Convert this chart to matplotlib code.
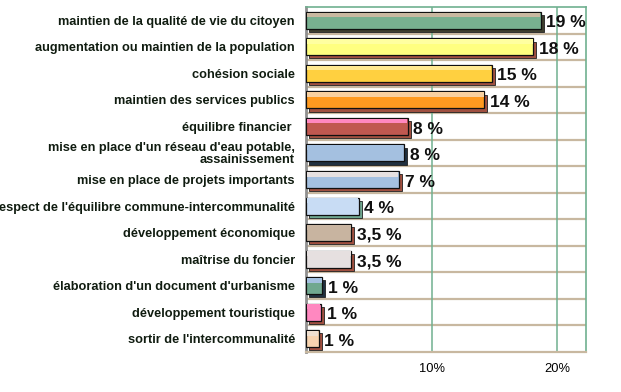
import matplotlib
matplotlib.use("Agg")
import matplotlib.pyplot as plt
from matplotlib.patches import Rectangle

categories = [
    "maintien de la qualité de vie du citoyen",
    "augmentation ou maintien de la population",
    "cohésion sociale",
    "maintien des services publics",
    "équilibre financier ",
    "mise en place d'un réseau d'eau potable,\nassainissement",
    "mise en place de projets importants",
    "espect de l'équilibre commune-intercommunalité",
    "développement économique",
    "maîtrise du foncier",
    "élaboration d'un document d'urbanisme",
    "développement touristique",
    "sortir de l'intercommunalité",
]
values = [18.7, 18.1, 14.8, 14.2, 8.1, 7.8, 7.4, 4.2, 3.6, 3.6, 1.3, 1.2, 1.0]
value_labels = ["19 %", "18 %", "15 %", "14 %", "8 %", "8 %", "7 %", "4 %",
                "3,5 %", "3,5 %", "1 %", "1 %", "1 %"]
xticks = [10, 20]
xtick_labels = ["10%", "20%"]

face = ["#78b090", "#ffff80", "#ffd040", "#ff9a20", "#c05850", "#a4c0e0",
        "#a4c0e0", "#c8dcf4", "#c8b4a0", "#e6e0e0", "#70a890", "#ff88c0",
        "#f8d4b0"]
top = ["#c8b8a0", "#ffffa0", "#ffe890", "#f8d0a0", "#ff88c0", "#a4c0e0",
       "#e6e0e0", "#c8dcf4", "#c8b4a0", "#e6e0e0", "#a4c0e0", "#ff88c0",
       "#f0e0d0"]
shadow = ["#404030", "#a05040", "#a05040", "#a05040", "#a05040", "#203040",
          "#a05040", "#70a890", "#a05040", "#a05040", "#203040", "#a05040",
          "#a05040"]

fig = plt.figure(figsize=(6.21, 3.92), dpi=100)
ax = fig.add_axes([306/621, 1-352/392, (586-306)/621, (352-7)/392])
n = len(categories)
ax.set_xlim(0, 22.3)
ax.set_ylim(n - 0.5, -0.5)

h = 0.64
for i, v in enumerate(values):
    ax.add_patch(Rectangle((0.25, i - h/2 + 0.12), v, h, facecolor=shadow[i],
                           edgecolor="#202020", lw=0.6, zorder=3))
    ax.add_patch(Rectangle((0, i - h/2), v, h, facecolor=face[i],
                           edgecolor="#101010", lw=0.9, zorder=4))
    ax.add_patch(Rectangle((0.05, i - h/2 + 0.03), v - 0.1, h*0.28,
                           facecolor=top[i], edgecolor="none", zorder=5))
    ax.text(v + 0.45, i + 0.1, value_labels[i], ha="left", va="center",
            fontsize=12.5, fontweight="bold", family="Liberation Sans",
            color="#101010", zorder=6)

for k in range(1, n):
    ax.axhline(k - 0.5, color="#c8b8a0", lw=1.6, zorder=1)
for x in xticks:
    ax.axvline(x, color="#70b090", lw=1.1, zorder=1)

ax.set_xticks(xticks)
ax.set_xticklabels(xtick_labels, family="Liberation Sans", fontsize=9.3)
ax.tick_params(axis="x", length=0, pad=8)
ax.set_yticks(range(n))
ax.set_yticklabels(categories, family="Liberation Sans", fontsize=9.2,
                   fontweight="bold", color="#101c10", linespacing=1.0)
ax.tick_params(axis="y", length=0, pad=8)
for lab in ax.get_yticklabels():
    lab.set_ha("right")

for s in ["top", "right"]:
    ax.spines[s].set_color("#70b090")
    ax.spines[s].set_linewidth(1.2)
ax.spines["bottom"].set_color("#c8b8a0")
ax.spines["bottom"].set_linewidth(1.6)
ax.spines["left"].set_color("#909090")
ax.spines["left"].set_linewidth(2)

fig.savefig("out.png", dpi=100)
